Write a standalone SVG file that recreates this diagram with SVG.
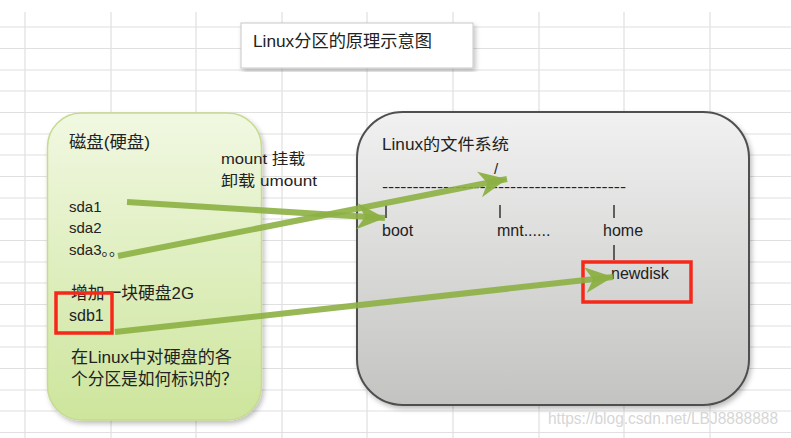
<svg xmlns="http://www.w3.org/2000/svg" width="791" height="438" viewBox="0 0 791 438">
<defs>
<style>
.grid line{stroke:#e0e0e0;stroke-width:1.2}
.t{font-family:"Liberation Sans","Noto Sans CJK SC",sans-serif;fill:#222}
.s15{font-size:15px}
.s16{font-size:16px}
.s17{font-size:17px}
.tick{stroke:#333;stroke-width:1.5}
.red{fill:none;stroke:#f5281a;stroke-width:3.5}
.arrow{stroke:#8cb043;stroke-width:6;stroke-opacity:0.9;fill:none;marker-end:url(#ah)}
</style>
<linearGradient id="gGreen" x1="0" y1="0" x2="0" y2="1">
<stop offset="0" stop-color="#f1f8e2"/>
<stop offset="1" stop-color="#cde59c"/>
</linearGradient>
<linearGradient id="gGray" x1="0" y1="0" x2="0" y2="1">
<stop offset="0" stop-color="#f1f1f1"/>
<stop offset="1" stop-color="#c3c3c1"/>
</linearGradient>
<filter id="sh" x="-5%" y="-5%" width="112%" height="112%">
<feDropShadow dx="2" dy="3" stdDeviation="2.5" flood-color="#000" flood-opacity="0.25"/>
</filter>
<marker id="ah" markerUnits="userSpaceOnUse" markerWidth="32" markerHeight="28" refX="28" refY="14" orient="auto">
<path d="M0,1 L28,14 L0,27 L8,14 Z" fill="#8cb043" fill-opacity="0.95"/>
</marker>
</defs>
<rect width="791" height="438" fill="#fff"/>
<g class="grid">
<line x1="0" y1="27" x2="791" y2="27"/>
<line x1="0" y1="48.5" x2="791" y2="48.5"/>
<line x1="0" y1="70" x2="791" y2="70"/>
<line x1="0" y1="91" x2="791" y2="91"/>
<line x1="0" y1="112.5" x2="791" y2="112.5"/>
<line x1="0" y1="134" x2="791" y2="134"/>
<line x1="0" y1="155" x2="791" y2="155"/>
<line x1="0" y1="176.5" x2="791" y2="176.5"/>
<line x1="0" y1="198" x2="791" y2="198"/>
<line x1="0" y1="219" x2="791" y2="219"/>
<line x1="0" y1="240.5" x2="791" y2="240.5"/>
<line x1="0" y1="262" x2="791" y2="262"/>
<line x1="0" y1="283" x2="791" y2="283"/>
<line x1="0" y1="304.5" x2="791" y2="304.5"/>
<line x1="0" y1="326" x2="791" y2="326"/>
<line x1="0" y1="347" x2="791" y2="347"/>
<line x1="0" y1="368.5" x2="791" y2="368.5"/>
<line x1="0" y1="390" x2="791" y2="390"/>
<line x1="0" y1="411" x2="791" y2="411"/>
<line x1="0" y1="432.5" x2="791" y2="432.5"/>
<line x1="25" y1="12" x2="25" y2="438"/>
<line x1="111" y1="12" x2="111" y2="438"/>
<line x1="196" y1="12" x2="196" y2="438"/>
<line x1="282" y1="12" x2="282" y2="438"/>
<line x1="367" y1="12" x2="367" y2="438"/>
<line x1="453" y1="12" x2="453" y2="438"/>
<line x1="539" y1="12" x2="539" y2="438"/>
<line x1="624" y1="12" x2="624" y2="438"/>
<line x1="710" y1="12" x2="710" y2="438"/>
</g>
<g id="title">
<rect x="241" y="23" width="232" height="45" fill="#fff" stroke="#c8c8c8" stroke-width="1" filter="url(#sh)"/>
<text class="t s17" x="253" y="47" textLength="179" lengthAdjust="spacingAndGlyphs">Linux分区的原理示意图</text>
</g>
<g id="disk">
<rect x="47.5" y="113" width="214" height="307" rx="34" ry="34" fill="url(#gGreen)" stroke="#c6da90" stroke-width="1.5" filter="url(#sh)"/>
<text class="t s17" x="69" y="148" textLength="81" lengthAdjust="spacingAndGlyphs">磁盘(硬盘)</text>
<text class="t s15" x="69" y="212">sda1</text>
<text class="t s15" x="69" y="233">sda2</text>
<text class="t s15" x="69" y="255">sda3。。</text>
<text class="t s17" x="71" y="299" textLength="123" lengthAdjust="spacingAndGlyphs">增加一块硬盘2G</text>
<text class="t s16" x="69" y="321">sdb1</text>
<rect class="red" x="56" y="293" width="56" height="40"/>
<text class="t s17" x="71" y="363" textLength="161" lengthAdjust="spacingAndGlyphs">在Linux中对硬盘的各</text>
<text class="t s17" x="71" y="385" textLength="167" lengthAdjust="spacingAndGlyphs">个分区是如何标识的？</text>
</g>
<g id="mountlabel">
<text class="t s15" x="221" y="164" textLength="84" lengthAdjust="spacingAndGlyphs">mount 挂载</text>
<text class="t s15" x="221" y="186" textLength="96" lengthAdjust="spacingAndGlyphs">卸载 umount</text>
</g>
<g id="fs">
<rect x="357" y="112" width="392" height="293" rx="46" ry="46" fill="url(#gGray)" stroke="#4f4f4f" stroke-width="2" filter="url(#sh)"/>
<text class="t s16" x="382" y="150" textLength="127" lengthAdjust="spacingAndGlyphs">Linux的文件系统</text>
<text class="t s15" x="494" y="174">/</text>
<text class="t s15" x="382" y="192" textLength="244" lengthAdjust="spacingAndGlyphs">----------------------------------------</text>
<line class="tick" x1="386" y1="205" x2="386" y2="218"/>
<line class="tick" x1="500" y1="205" x2="500" y2="218"/>
<line class="tick" x1="614" y1="205" x2="614" y2="218"/>
<text class="t s16" x="382" y="236">boot</text>
<text class="t s16" x="497" y="236">mnt......</text>
<text class="t s16" x="603" y="236">home</text>
<line class="tick" x1="614" y1="245" x2="614" y2="260"/>
<text class="t s16" x="611" y="279">newdisk</text>
<rect class="red" x="583" y="262" width="108" height="40"/>
</g>
<g id="connectors">
<line class="arrow" x1="127" y1="202" x2="385" y2="218"/>
<line class="arrow" x1="118" y1="256" x2="507" y2="179"/>
<line class="arrow" x1="115" y1="332" x2="613" y2="277"/>
</g>
<g id="watermark">
<text x="548" y="424" font-family="Liberation Sans, sans-serif" font-size="16" fill="#d6d6d6" textLength="230" lengthAdjust="spacingAndGlyphs">https://blog.csdn.net/LBJ8888888</text>
</g>
</svg>
